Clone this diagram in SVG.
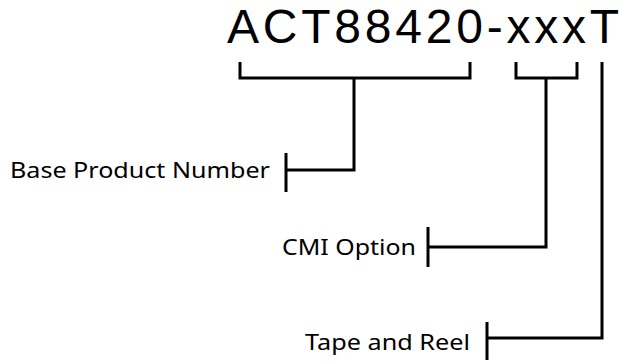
<svg xmlns="http://www.w3.org/2000/svg" width="619" height="362" viewBox="0 0 619 362">
<style>
.ln{fill:none;stroke:#000;stroke-width:3;stroke-linecap:butt;stroke-linejoin:miter}
.lbl{font-family:"Noto Sans","Open Sans",sans-serif;font-size:21px;fill:#000}
.title{font-family:"Liberation Sans",Arial,sans-serif;font-size:48px;fill:#000}
</style>
<rect width="619" height="362" fill="#fff"/>
<g id="part-number"><text class="title" x="227" y="43" textLength="392" lengthAdjust="spacing">ACT88420-xxxT</text></g>
<g id="base-product-number"><text class="lbl" x="10" y="178" textLength="260" lengthAdjust="spacingAndGlyphs">Base Product Number</text></g>
<g id="cmi-option"><text class="lbl" x="282" y="255" textLength="134" lengthAdjust="spacingAndGlyphs">CMI Option</text></g>
<g id="tape-and-reel"><text class="lbl" x="305" y="350" textLength="165" lengthAdjust="spacingAndGlyphs">Tape and Reel</text></g>
<g id="connectors">
<path class="ln" d="M240,62 V78 H470 V62 M354,78 V170 H286 M286,153 V192"/>
<path class="ln" d="M516,62 V78 H577 V62 M546,78 V247 H428 M428,227 V267"/>
<path class="ln" d="M602,62 V338 H487 M487,322 V360"/>
</g>
</svg>
